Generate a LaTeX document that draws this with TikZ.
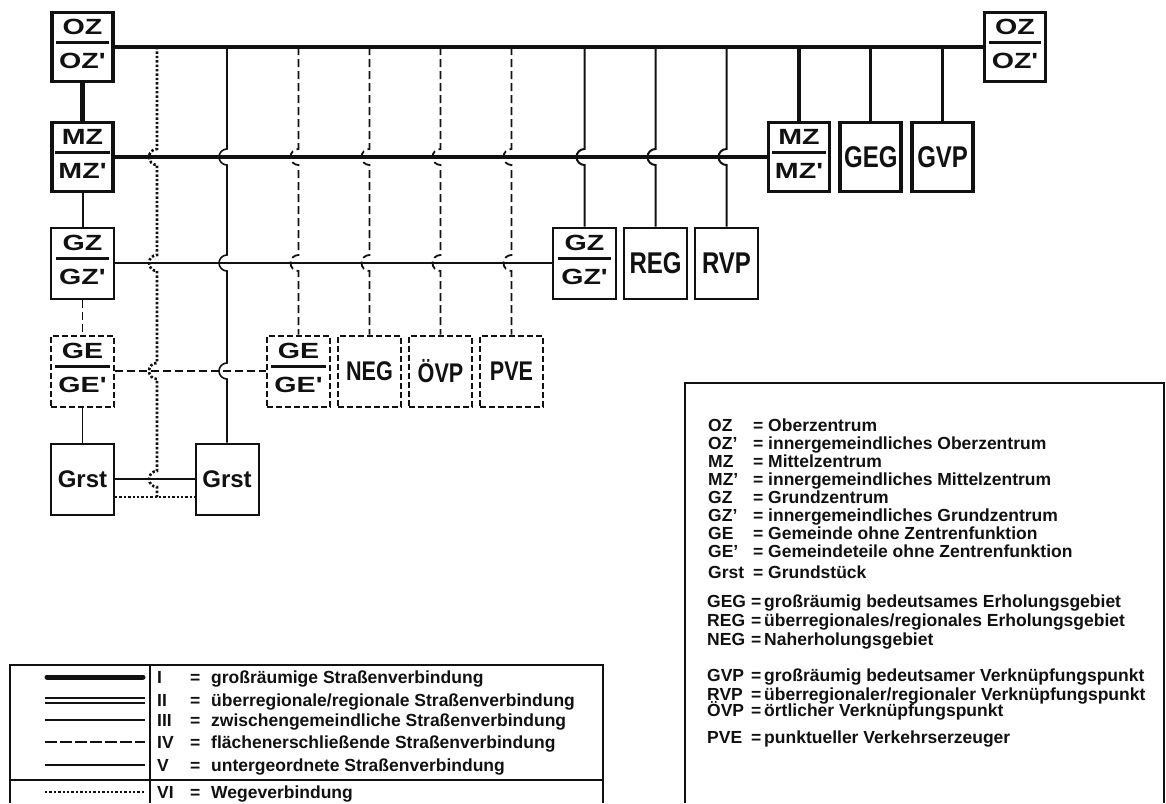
\documentclass[tikz,border=0pt]{standalone}
\usepackage{fontspec}
\setmainfont{Liberation Sans}
\newfontfamily\zfont[FakeStretch=1.3]{Liberation Sans}
\newfontfamily\cfont[FakeStretch=0.8]{Liberation Sans}
\usetikzlibrary{positioning,calc}
\definecolor{Paper}{HTML}{FFFFFF}
\definecolor{Ink}{HTML}{111111}
\setlength{\arrayrulewidth}{3pt}
% two-line label with a heavy bar between
\newcommand{\zlabel}[2]{\begin{tabular}{@{\hspace{3pt}}c@{\hspace{3pt}}}#1\\\hline\rule{0pt}{24pt}#2\end{tabular}}
% bridge of a vertical road over a row road
\newcommand{\hop}[2]{-- ($(#1|-#2)+(0,8)$) arc[start angle=90,end angle=270,radius=8pt]}
\tikzset{
  basebox/.style={draw=Ink,fill=Paper,inner sep=0pt,text=Ink},
  heavybox/.style={basebox,line width=3.8pt,minimum width=61pt,minimum height=69pt},
  plainbox/.style={basebox,line width=2pt,minimum width=63pt,minimum height=71pt},
  dashbox/.style={basebox,line width=2pt,minimum width=63pt,minimum height=71pt,dash pattern=on 6pt off 3pt},
  fraclabel/.style={font=\zfont\bfseries\fontsize{22}{22}\selectfont},
  wordlabel/.style={font=\cfont\bfseries\fontsize{30}{30}\selectfont},
  smalllabel/.style={font=\cfont\bfseries\fontsize{27}{27}\selectfont},
  plotlabel/.style={font=\bfseries\fontsize{24}{24}\selectfont},
  roadI/.style={draw=Ink,line width=4.5pt},
  roadII/.style={draw=Ink,line width=3.2pt},
  roadIII/.style={draw=Ink,line width=2pt},
  roadIV/.style={draw=Ink,line width=1.8pt,dash pattern=on 8pt off 4pt},
  roadV/.style={draw=Ink,line width=1.6pt},
  roadVI/.style={draw=Ink,line width=2.6pt,dash pattern=on 2.4pt off 2pt},
  legendframe/.style={draw=Ink,line width=1.8pt},
  legendtext/.style={font=\bfseries\fontsize{17.5}{18}\selectfont,text=Ink,anchor=base west,inner sep=0pt}
}

\begin{document}
\begin{tikzpicture}[x=1pt,y=1pt]
  \fill[Paper] (0,0) rectangle (1166,-803);
  \useasboundingbox (0,0) rectangle (1166,-803);

  % left column
  \node[heavybox,fraclabel] (OZ1) at (82.5,-47) {\zlabel{OZ}{OZ'}};
  \node[heavybox,fraclabel] (MZ1) at (82.5,-157) {\zlabel{MZ}{MZ'}};
  \node[plainbox,fraclabel] (GZ1) at (82.5,-263) {\zlabel{GZ}{GZ'}};
  \node[dashbox,fraclabel] (GE1) at (82.5,-371) {\zlabel{GE}{GE'}};
  \node[plainbox,plotlabel] (Grst1) at (82.5,-479) {Grst};
  \node[plainbox,plotlabel] (Grst2) at (227,-479) {Grst};

  % rows
  \node[heavybox,fraclabel] (OZ2) at (1015,-47) {\zlabel{OZ}{OZ'}};
  \node[heavybox,fraclabel] (MZ2) at (799,-157) {\zlabel{MZ}{MZ'}};
  \node[heavybox,wordlabel,right=7pt of MZ2] (GEG) {GEG};
  \node[heavybox,wordlabel,right=7pt of GEG] (GVP) {GVP};
  \node[plainbox,fraclabel] (GZ2) at (584.5,-263) {\zlabel{GZ}{GZ'}};
  \node[plainbox,wordlabel,right=6pt of GZ2] (REG) {REG};
  \node[plainbox,wordlabel,right=6pt of REG] (RVP) {RVP};
  \node[dashbox,fraclabel] (GE2) at (298.5,-371) {\zlabel{GE}{GE'}};
  \node[dashbox,smalllabel,right=6pt of GE2] (NEG) {NEG};
  \node[dashbox,smalllabel,right=6pt of NEG] (OEVP) {ÖVP};
  \node[dashbox,smalllabel,right=6pt of OEVP] (PVE) {PVE};

  \coordinate (wtop) at (157,-47);
  \coordinate (wlow) at ([yshift=-18pt]Grst1.east);

  % verticals from the top road
  \draw[roadVI] (wtop) \hop{wtop}{MZ1} \hop{wtop}{GZ1} \hop{wtop}{GE1} \hop{wtop}{Grst1} -- (wtop |- wlow);
  \draw[roadV] (Grst2 |- OZ1) \hop{Grst2}{MZ1} \hop{Grst2}{GZ1} \hop{Grst2}{GE1} -- (Grst2.north);
  \foreach \n in {GE2,NEG,OEVP,PVE}
    \draw[roadIV] (\n |- OZ1) \hop{\n}{MZ1} \hop{\n}{GZ1} -- (\n.north);
  \foreach \n in {GZ2,REG,RVP}
    \draw[roadIII] (\n |- OZ1) \hop{\n}{MZ1} -- (\n.north);
  \foreach \n in {MZ2,GEG,GVP}
    \draw[roadII] (\n |- OZ1) -- (\n.north);

  % row roads
  \draw[roadI] (OZ1.east) -- (OZ2.west);
  \draw[roadII] (MZ1.east) -- (MZ2.west);
  \draw[roadIII] (GZ1.east) -- (GZ2.west);
  \draw[roadIV] (GE1.east) -- (GE2.west);
  \draw[roadV] (Grst1.east) -- (Grst2.west);
  \draw[roadVI] (wlow) -- (wlow -| Grst2.west);

  % left column links
  \draw[roadI] (OZ1.south) -- (MZ1.north);
  \draw[roadIII] (MZ1.south) -- (GZ1.north);
  \draw[roadIV] (GZ1.south) -- (GE1.north);
  \draw[roadV] (GE1.south) -- (Grst1.north);

  % legend of roads
  \draw[legendframe] (10,-803) |- (603,-665) -- (603,-803);
  \draw[legendframe] (150,-665) -- (150,-803);
  \draw[legendframe] (10,-780) -- (603,-780);
  \draw[roadI,line width=5pt,line cap=round] (47,-677) -- (143,-677);
  \draw[draw=Ink,line width=2pt,double=Paper,double distance=3pt] (45,-700) -- (145,-700);
  \draw[roadIII] (45,-720) -- (145,-720);
  \draw[roadIV,dash pattern=on 12pt off 3pt] (45,-742) -- (145,-742);
  \draw[roadIII] (45,-765) -- (145,-765);
  \draw[roadVI,line width=2pt] (45,-792) -- (145,-792);
  \foreach \y/\num/\txt in {683/I/{großräumige Straßenverbindung},
      706/II/{überregionale/regionale Straßenverbindung},
      726/III/{zwischengemeindliche Straßenverbindung},
      748/IV/{flächenerschließende Straßenverbindung},
      771/V/{untergeordnete Straßenverbindung},
      798/VI/{Wegeverbindung}} {
    \node[legendtext] (rn\y) at (157,-\y) {\num};
    \node[legendtext] (re\y) at (190,-\y) {=};
    \node[legendtext] (rt\y) at (211,-\y) {\txt};
  }

  % legend of abbreviations
  \draw[legendframe] (685,-803) |- (1164,-383) -- (1164,-803);
  \foreach \y/\ab/\txt in {431/OZ/Oberzentrum,
      449/OZ'/innergemeindliches Oberzentrum,
      467/MZ/Mittelzentrum,
      485/MZ'/innergemeindliches Mittelzentrum,
      503/GZ/Grundzentrum,
      521/GZ'/innergemeindliches Grundzentrum,
      539/GE/Gemeinde ohne Zentrenfunktion,
      557/GE'/Gemeindeteile ohne Zentrenfunktion,
      578/Grst/Grundstück} {
    \node[legendtext] (an\y) at (708,-\y) {\ab};
    \node[legendtext] (ae\y) at (753,-\y) {=};
    \node[legendtext] (at\y) at (768,-\y) {\txt};
  }
  \foreach \y/\ab/\txt in {607/GEG/{großräumig bedeutsames Erholungsgebiet},
      626/REG/{überregionales/regionales Erholungsgebiet},
      645/NEG/{Naherholungsgebiet},
      681/GVP/{großräumig bedeutsamer Verknüpfungspunkt},
      700/RVP/{überregionaler/regionaler Verknüpfungspunkt},
      716/ÖVP/{örtlicher Verknüpfungspunkt},
      743/PVE/{punktueller Verkehrserzeuger}} {
    \node[legendtext] (bn\y) at (707,-\y) {\ab};
    \node[legendtext] (be\y) at (751,-\y) {=};
    \node[legendtext] (bt\y) at (764,-\y) {\txt};
  }
\end{tikzpicture}
\end{document}
